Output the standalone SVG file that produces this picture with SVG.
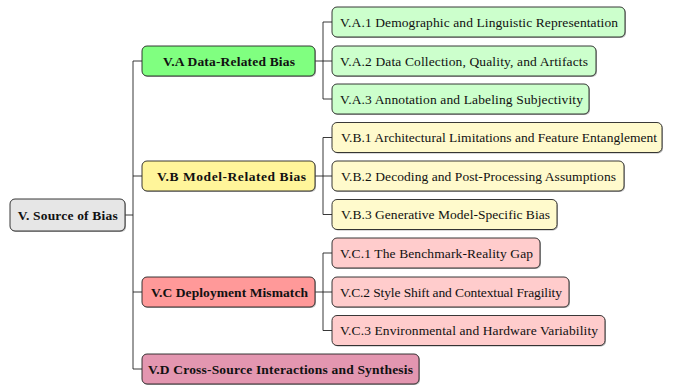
<svg xmlns="http://www.w3.org/2000/svg" width="673" height="386" viewBox="0 0 673 386">
<defs>
<style>
.b{stroke:#222;stroke-width:0.9}
.sh{fill:#777;opacity:0.55}
.t{font-family:"Liberation Serif","Times New Roman",serif;font-size:13.5px;fill:#111;dominant-baseline:central}
.tb{font-family:"Liberation Serif","Times New Roman",serif;font-size:13.5px;font-weight:bold;fill:#111;dominant-baseline:central}
.c{stroke:#222;stroke-width:0.9;fill:none}
</style>
</defs>
<rect width="673" height="386" fill="#fff"/>
<g id="connectors">
<path class="c" d="M125,215H133M133,61V369M133,61H142M133,176H142M133,292H142M133,369H142"/>
<path class="c" d="M315,61H323M323,22V99M323,22H332M323,61H332M323,99H332"/>
<path class="c" d="M315,176H323M323,137.5V214.5M323,137.5H332M323,176H332M323,214.5H332"/>
<path class="c" d="M315,292H323M323,253V330.5M323,253H332M323,292H332M323,330.5H332"/>
</g>
<g id="root">
<rect class="sh" x="11" y="200" width="115" height="32" rx="5"/>
<rect class="b" x="10" y="199" width="115" height="32" rx="5" fill="#e6e6e6"/>
<text class="tb" x="17.7" y="215" textLength="100" lengthAdjust="spacing">V. Source of Bias</text>
</g>
<g id="VA">
<rect class="sh" x="143" y="47" width="173" height="30" rx="5"/>
<rect class="b" x="142" y="46" width="173" height="30" rx="5" fill="#80ff80"/>
<text class="tb" x="163" y="61" textLength="132" lengthAdjust="spacing">V.A Data-Related Bias</text>
</g>
<g id="VA1">
<rect class="sh" x="333" y="8" width="293" height="30" rx="5"/>
<rect class="b" x="332" y="7" width="293" height="30" rx="5" fill="#ccffcc"/>
<text class="t" x="340" y="22" textLength="278" lengthAdjust="spacing">V.A.1 Demographic and Linguistic Representation</text>
</g>
<g id="VA2">
<rect class="sh" x="333" y="47" width="264" height="30" rx="5"/>
<rect class="b" x="332" y="46" width="264" height="30" rx="5" fill="#ccffcc"/>
<text class="t" x="340" y="61" textLength="248" lengthAdjust="spacing">V.A.2 Data Collection, Quality, and Artifacts</text>
</g>
<g id="VA3">
<rect class="sh" x="333" y="85" width="257" height="30" rx="5"/>
<rect class="b" x="332" y="84" width="257" height="30" rx="5" fill="#ccffcc"/>
<text class="t" x="340" y="99" textLength="243" lengthAdjust="spacing">V.A.3 Annotation and Labeling Subjectivity</text>
</g>
<g id="VB">
<rect class="sh" x="143" y="162" width="173" height="30" rx="5"/>
<rect class="b" x="142" y="161" width="173" height="30" rx="5" fill="#fff59a"/>
<text class="tb" x="157" y="176" textLength="149" lengthAdjust="spacing">V.B Model-Related Bias</text>
</g>
<g id="VB1">
<rect class="sh" x="333" y="123.5" width="330" height="30" rx="5"/>
<rect class="b" x="332" y="122.5" width="330" height="30" rx="5" fill="#fffacc"/>
<text class="t" x="341" y="137.5" textLength="316" lengthAdjust="spacing">V.B.1 Architectural Limitations and Feature Entanglement</text>
</g>
<g id="VB2">
<rect class="sh" x="333" y="162" width="292" height="30" rx="5"/>
<rect class="b" x="332" y="161" width="292" height="30" rx="5" fill="#fffacc"/>
<text class="t" x="341" y="176" textLength="275" lengthAdjust="spacing">V.B.2 Decoding and Post-Processing Assumptions</text>
</g>
<g id="VB3">
<rect class="sh" x="333" y="200.5" width="225" height="30" rx="5"/>
<rect class="b" x="332" y="199.5" width="225" height="30" rx="5" fill="#fffacc"/>
<text class="t" x="341" y="214.5" textLength="209" lengthAdjust="spacing">V.B.3 Generative Model-Specific Bias</text>
</g>
<g id="VC">
<rect class="sh" x="143" y="278" width="173" height="30" rx="5"/>
<rect class="b" x="142" y="277" width="173" height="30" rx="5" fill="#ff9999"/>
<text class="tb" x="151" y="292" textLength="157" lengthAdjust="spacing">V.C Deployment Mismatch</text>
</g>
<g id="VC1">
<rect class="sh" x="333" y="239" width="208" height="30" rx="5"/>
<rect class="b" x="332" y="238" width="208" height="30" rx="5" fill="#ffcccc"/>
<text class="t" x="340" y="253" textLength="193" lengthAdjust="spacing">V.C.1 The Benchmark-Reality Gap</text>
</g>
<g id="VC2">
<rect class="sh" x="333" y="278" width="237" height="30" rx="5"/>
<rect class="b" x="332" y="277" width="237" height="30" rx="5" fill="#ffcccc"/>
<text class="t" x="340" y="292" textLength="222" lengthAdjust="spacing">V.C.2 Style Shift and Contextual Fragility</text>
</g>
<g id="VC3">
<rect class="sh" x="333" y="316.5" width="273" height="30" rx="5"/>
<rect class="b" x="332" y="315.5" width="273" height="30" rx="5" fill="#ffcccc"/>
<text class="t" x="340" y="330.5" textLength="258" lengthAdjust="spacing">V.C.3 Environmental and Hardware Variability</text>
</g>
<g id="VD">
<rect class="sh" x="143" y="355" width="277" height="30" rx="5"/>
<rect class="b" x="142" y="354" width="277" height="30" rx="5" fill="#e396b0"/>
<text class="tb" x="148" y="369" textLength="265" lengthAdjust="spacing">V.D Cross-Source Interactions and Synthesis</text>
</g>
</svg>
